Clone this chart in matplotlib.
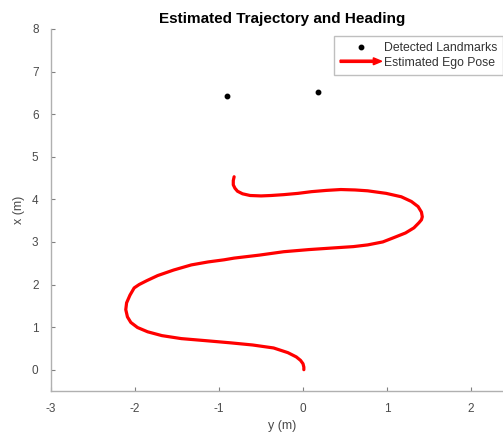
import matplotlib.pyplot as plt
import matplotlib.patches as mpatches
from matplotlib.legend_handler import HandlerPatch
from matplotlib.lines import Line2D

plt.rcParams['font.family'] = ['Liberation Sans', 'DejaVu Sans']
plt.rcParams['axes.unicode_minus'] = False

# 数据：估计轨迹 (y, x)
traj_y = [0.01, 0.01, 0.0, -0.03, -0.08, -0.18, -0.35, -0.60, -0.86, -1.15, -1.45,
          -1.68, -1.85, -1.97, -2.05, -2.09, -2.11, -2.10, -2.06, -2.01, -1.95,
          -1.86, -1.73, -1.54, -1.33, -1.13, -0.94, -0.82, -0.52, -0.23, 0.07,
          0.37, 0.60, 0.77, 0.95, 1.08, 1.22, 1.32, 1.38, 1.41, 1.42, 1.41, 1.37,
          1.29, 1.17, 0.99, 0.77, 0.62, 0.45, 0.28, 0.10, -0.06, -0.23, -0.38,
          -0.50, -0.63, -0.72, -0.78, -0.81, -0.83, -0.83, -0.82]
traj_x = [0.0, 0.06, 0.14, 0.22, 0.30, 0.40, 0.51, 0.58, 0.63, 0.68, 0.73,
          0.80, 0.89, 0.99, 1.11, 1.24, 1.41, 1.57, 1.75, 1.92, 2.00,
          2.09, 2.21, 2.34, 2.46, 2.53, 2.58, 2.62, 2.69, 2.77, 2.82,
          2.86, 2.89, 2.93, 3.00, 3.10, 3.21, 3.33, 3.45, 3.52, 3.59, 3.70, 3.83,
          3.95, 4.06, 4.14, 4.20, 4.22, 4.23, 4.21, 4.18, 4.14, 4.11, 4.09,
          4.08, 4.09, 4.13, 4.19, 4.26, 4.34, 4.44, 4.53]

# 检测到的路标
lm_y = [-0.9, 0.18]
lm_x = [6.43, 6.52]

fig = plt.figure(figsize=(5.03, 4.37), dpi=100)
ax = fig.add_axes([0.1014, 0.1053, 0.9185, 0.8284])

ax.plot(lm_y, lm_x, 'o', color='black', markersize=3.2)
ax.plot(traj_y, traj_x, '-', color='#ff0000', linewidth=2.3,
        solid_capstyle='round', solid_joinstyle='round')

ax.set_xlim(-3, 2.5)
ax.set_ylim(-0.5, 8)
ax.set_xticks([-3, -2, -1, 0, 1, 2])
ax.set_yticks([0, 1, 2, 3, 4, 5, 6, 7, 8])

txt = '#4a4a4a'
for s in ['top', 'right']:
    ax.spines[s].set_visible(False)
for s in ['left', 'bottom']:
    ax.spines[s].set_color('#b0b0b0')
    ax.spines[s].set_linewidth(1.0)
ax.tick_params(direction='in', length=3, color='#808080', labelsize=8.5, labelcolor=txt, pad=9)

ax.set_xlabel('y (m)', fontsize=9, color=txt, labelpad=3)
ax.set_ylabel('x (m)', fontsize=9, color=txt, labelpad=5)
ax.set_title('Estimated Trajectory and Heading', fontsize=11, fontweight='bold', pad=4.5)


def make_arrow(legend, orig_handle, xdescent, ydescent, width, height, fontsize):
    return mpatches.FancyArrow(0, height / 2, width, 0, width=1.6, head_width=5,
                               head_length=6, length_includes_head=True, color='red')


# 图例：路标点 + 红色箭头
lm_handle = Line2D([], [], marker='o', color='black', linestyle='none', markersize=3.2)
arrow_handle = mpatches.FancyArrow(0, 0, 1, 0, color='red')
leg = fig.legend([lm_handle, arrow_handle], ['Detected Landmarks', 'Estimated Ego Pose'],
                 handler_map={mpatches.FancyArrow: HandlerPatch(patch_func=make_arrow)},
                 loc='upper left', bbox_to_anchor=(334 / 503, 1 - 36 / 437),
                 fontsize=8.8, frameon=True, fancybox=False, handlelength=3.4,
                 handletextpad=0.15, borderpad=0.5, labelspacing=0.2, borderaxespad=0)
leg.get_frame().set_edgecolor('#b0b0b0')
leg.get_frame().set_linewidth(1.0)
for t in leg.get_texts():
    t.set_color('#333333')

plt.savefig('out.png', dpi=100)
